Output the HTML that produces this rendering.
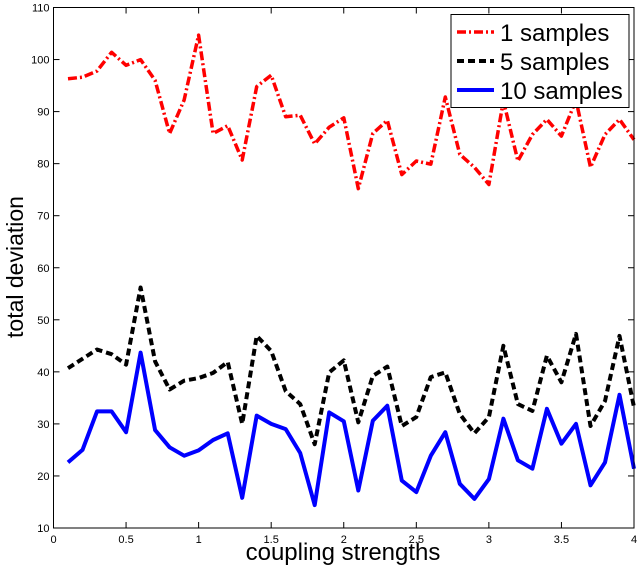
<!DOCTYPE html>
<html><head><meta charset="utf-8"><style>
html,body{margin:0;padding:0;background:#fff;}
svg{display:block;font-family:"Liberation Sans",sans-serif;}
</style></head><body>
<svg id="chart" width="638" height="572" viewBox="0 0 638 572">
<rect x="0" y="0" width="638" height="572" fill="#fff"/>
<g id="ticks"></g>
<g id="series"></g>
<rect x="53.5" y="7.5" width="580.5" height="520.5" fill="none" stroke="#000" stroke-width="1"/>
<text x="17" y="267" font-size="23" text-anchor="middle" dominant-baseline="middle" transform="rotate(-90 17 267)">total deviation</text>
<text x="343" y="560" font-size="24" text-anchor="middle">coupling strengths</text>
<g>
<rect x="451" y="14.5" width="178" height="93" fill="#fff" stroke="#000" stroke-width="1"/>
<line x1="457" y1="32" x2="494" y2="32" stroke="#f00" stroke-width="3.5" stroke-dasharray="9,3,2,3"/>
<text x="500" y="41" font-size="24">1 samples</text>
<line x1="457" y1="61" x2="494" y2="61" stroke="#000" stroke-width="4" stroke-dasharray="7,4"/>
<text x="500" y="70" font-size="24">5 samples</text>
<line x1="457" y1="90" x2="494" y2="90" stroke="#00f" stroke-width="4"/>
<text x="500" y="99" font-size="24">10 samples</text>
</g>
</svg>
<script>
const xValues = [0.1,0.2,0.3,0.4,0.5,0.6,0.7,0.8,0.9,1.0,1.1,1.2,1.3,1.4,1.5,1.6,1.7,1.8,1.9,2.0,2.1,2.2,2.3,2.4,2.5,2.6,2.7,2.8,2.9,3.0,3.1,3.2,3.3,3.4,3.5,3.6,3.7,3.8,3.9,4.0];
const samples1 = [96.3,96.6,97.8,101.4,98.9,100,96,85.8,92.2,104.7,85.8,87.3,80.7,94.8,97,89,89.3,83.8,87,88.8,75.2,85.8,88.3,77.9,80.5,79.9,92.8,81.8,79.3,76,92.1,80.5,85.6,88.5,85.3,92.2,79.3,85.6,88.5,84.6];
const samples5 = [40.7,42.5,44.3,43.4,41.4,56.2,42,36.6,38.3,38.8,39.8,41.9,30,46.9,44,36.3,33.8,26.1,39.9,42.2,30.3,39.2,41,29.6,31.3,39,39.9,31.9,28.2,31.3,45,33.8,32.5,43.1,38,47.3,29.6,34.4,46.9,33.2];
const samples10 = [22.6,25,32.4,32.4,28.4,43.7,28.8,25.5,23.9,24.9,26.9,28.2,15.8,31.6,30,29,24.4,14.4,32.2,30.5,17.2,30.6,33.5,19.1,16.9,23.9,28.4,18.5,15.6,19.4,31,23,21.4,32.9,26.2,30,18.2,22.6,35.6,21.4];
const xTicks = [0,0.5,1,1.5,2,2.5,3,3.5,4];
const xTickLabels = ["0","0.5","1","1.5","2","2.5","3","3.5","4"];
const yTicks = [10,20,30,40,50,60,70,80,90,100,110];
const yTickLabels = ["10","20","30","40","50","60","70","80","90","100","110"];

const X0=53.5, X1=634, Y0=528, Y1=7.5;
function xs(v){return X0+(v-0)/(4-0)*(X1-X0);}
function ys(v){return Y0-(v-10)/(110-10)*(Y0-Y1);}
const NS="http://www.w3.org/2000/svg";
const tg=document.getElementById('ticks');
function mk(tag,attrs,parent){const e=document.createElementNS(NS,tag);for(const k in attrs)e.setAttribute(k,attrs[k]);parent.appendChild(e);return e;}
xTicks.forEach((t,i)=>{
  const x=xs(t);
  let l=mk('line',{x1:x,y1:Y0,x2:x,y2:Y0-6,stroke:'#000','stroke-width':1},tg);
  
  
  let l2=mk('line',{x1:x,y1:Y1,x2:x,y2:Y1+6,stroke:'#000','stroke-width':1},tg);
  
  
  let tx=mk('text',{x:x,y:Y0+15,'font-size':11,'text-anchor':'middle'},tg);
  tx.textContent=xTickLabels[i];
  
  
});
yTicks.forEach((t,i)=>{
  const y=ys(t);
  let l=mk('line',{x1:X0,y1:y,x2:X0+6,y2:y,stroke:'#000','stroke-width':1},tg);
  
  
  let l2=mk('line',{x1:X1,y1:y,x2:X1-6,y2:y,stroke:'#000','stroke-width':1},tg);
  
  
  let tx=mk('text',{x:X0-4,y:y+4,'font-size':11,'text-anchor':'end'},tg);
  tx.textContent=yTickLabels[i];
  
  
});
const sg=document.getElementById('series');
function line(vals,color,w,dash,name){
  const d=vals.map((v,i)=>(i?'L':'M')+xs(xValues[i]).toFixed(1)+' '+ys(v).toFixed(1)).join(' ');
  const p=mk('path',{d:d,fill:'none',stroke:color,'stroke-width':w,'stroke-linejoin':'round'},sg);
  if(dash)p.setAttribute('stroke-dasharray',dash);
  
  
}
line(samples10,'#00f',4,null,'series-10-samples');
line(samples5,'#000',4,'7,4','series-5-samples');
line(samples1,'#f00',3.5,'9,3,2,3','series-1-samples');
</script>
</body></html>
